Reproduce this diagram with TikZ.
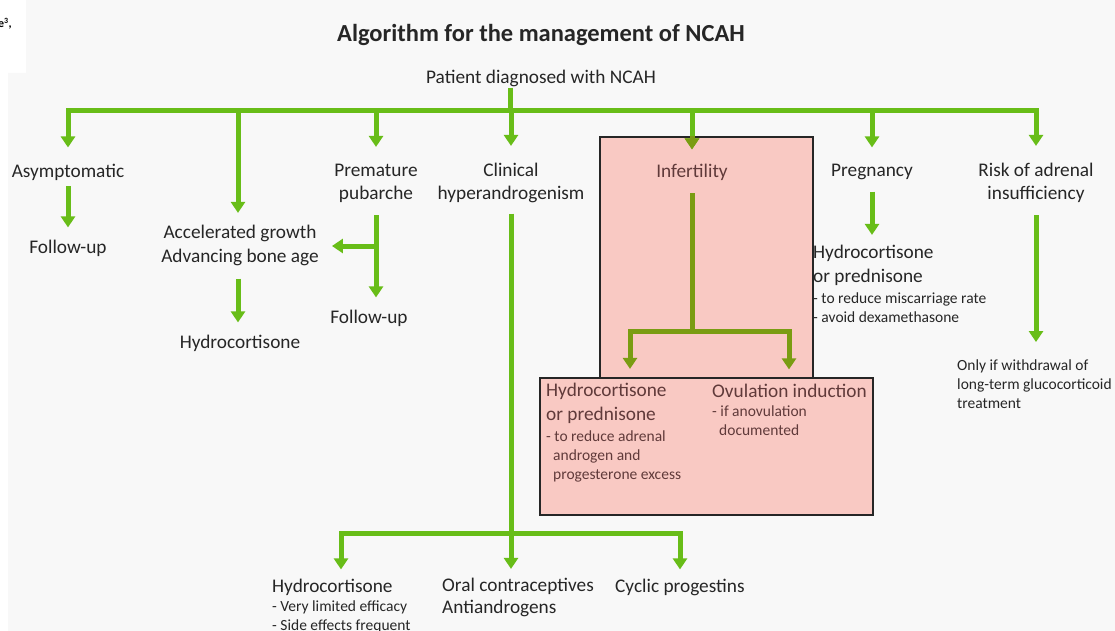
\documentclass[tikz,border=0pt]{standalone}
\usepackage{fontspec}
\setmainfont{Carlito}
\usetikzlibrary{arrows.meta}

\definecolor{panel}{RGB}{248,248,248}
\definecolor{grn}{RGB}{104,189,24}
\definecolor{olive}{RGB}{122,156,18}
\definecolor{rose}{RGB}{249,201,195}
\definecolor{ink}{RGB}{38,38,38}
\definecolor{inkbox}{RGB}{96,58,58}

% multi-line nodes are placed by the baseline of their last line
\tikzset{
  lbl/.style={font=\fontsize{19.3}{23.5}\selectfont, text=ink, inner sep=0pt, anchor=base, align=center},
  lblw/.style={lbl, anchor=base west, align=left},
  note/.style={font=\fontsize{15.5}{19}\selectfont, text=ink, inner sep=0pt, anchor=base west, align=left},
  flow/.style={draw=grn, line width=5pt},
  bar/.style={flow, line cap=rect},
  arr/.style={flow, -{Triangle[width=14pt,length=11pt]}},
  panelbox/.style={fill=rose, draw=black!85, line width=1.3pt},
}

\begin{document}
\begin{tikzpicture}[x=1pt,y=-1pt]
\useasboundingbox (0,0) rectangle (1115,631);
% page background and grey panel
\fill[white] (0,0) rectangle (1115,631);
\fill[panel] (26,0) -- (1115,0) -- (1115,631) -- (8,631) -- (8,73) -- (26,73) -- cycle;
\node[font=\bfseries\fontsize{12}{14}\selectfont, inner sep=0pt, anchor=base east] (frag) at (12,28) {e\textsuperscript{3},};

% shaded panels for the infertility branch
\draw[panelbox] (600,137) rectangle (813,378);
\draw[panelbox] (540,378) rectangle (873,515);

% titles
\node[lbl, font=\bfseries\fontsize{24.5}{28}\selectfont] (title) at (541,42) {Algorithm for the management of NCAH};
\node[lbl] (pat) at (541,84) {Patient diagnosed with NCAH};

% first level
\node[lbl] (asym) at (68,178) {Asymptomatic};
\node[lbl] (fu1) at (68,253) {Follow-up};
\node[lbl] (accel) at (240,262) {Accelerated growth\\Advancing bone age};
\node[lbl] (hc1) at (240,348) {Hydrocortisone};
\node[lbl] (prem) at (376,200) {Premature\\pubarche};
\node[lbl] (fu2) at (369,323) {Follow-up};
\node[lbl] (clin) at (511,200) {Clinical\\hyperandrogenism};
\node[lbl, text=inkbox] (infert) at (692,178) {Infertility};
\node[lbl] (preg) at (872,177) {Pregnancy};
\node[lbl] (risk) at (1036,200) {Risk of adrenal\\insufficiency};

% pregnancy branch
\node[lblw] (hcp) at (813,282) {Hydrocortisone\\or prednisone};
\node[note] (hcpn) at (813,322) {- to reduce miscarriage rate\\- avoid dexamethasone};

% adrenal insufficiency branch
\node[note] (only) at (957,408) {Only if withdrawal of\\long-term glucocorticoid\\treatment};

% infertility branch
\node[lblw, text=inkbox] (hci) at (546,420) {Hydrocortisone\\or prednisone};
\node[note, text=inkbox] (hcin) at (546,479) {- to reduce adrenal\\\hspace*{7pt}androgen and\\\hspace*{7pt}progesterone excess};
\node[lblw, text=inkbox] (ovu) at (712,397) {Ovulation induction};
\node[note, text=inkbox] (ovun) at (712,435) {- if anovulation\\\hspace*{7pt}documented};

% hyperandrogenism branch
\node[lblw] (hcb) at (272,592) {Hydrocortisone};
\node[note] (hcbn) at (272,630) {- Very limited efficacy\\- Side effects frequent};
\node[lblw, font=\fontsize{19.3}{21.5}\selectfont] (ocp) at (442,613) {Oral contraceptives\\Antiandrogens};
\node[lblw] (cyc) at (615,592) {Cyclic progestins};

% junctions
\coordinate (top) at (510,111);
\coordinate (c1) at (68,111);
\coordinate (c2) at (238,111);
\coordinate (c3) at (376,111);
\coordinate (c4) at (511,111);
\coordinate (c5) at (692,111);
\coordinate (c6) at (872,111);
\coordinate (c7) at (1036,111);
\coordinate (pb) at (376,246);
\coordinate (bj) at (511,533);
\coordinate (bl) at (341,533);
\coordinate (br) at (680,533);
\coordinate (ij) at (692,331);
\coordinate (il) at (630,331);
\coordinate (ir) at (789,331);

% main distribution bar
\draw[flow] (pat.south -| top) -- (top);
\draw[bar] (c1) -- (c7);
\draw[arr, shorten >=17pt] (c1) -- (c1 |- asym.north);
\draw[arr, shorten >=12pt] (c2) -- (c2 |- accel.north);
\draw[arr, shorten >=17pt] (c3) -- (c3 |- prem.north);
\draw[arr, shorten >=17pt] (c4) -- (c4 |- clin.north);
\draw[arr, shorten >=15pt] (c5) -- (c5 |- infert.north);
\draw[arr, shorten >=17pt] (c6) -- (c6 |- preg.north);
\draw[arr, shorten >=17pt] (c7) -- (c7 |- risk.north);

% second level
\draw[arr, shorten <=5pt, shorten >=12pt] (c1 |- asym.south) -- (c1 |- fu1.north);
\draw[arr, shorten <=13pt, shorten >=12pt] (c2 |- accel.south) -- (c2 |- hc1.north);
\draw[arr, shorten <=12pt, shorten >=12pt] (c3 |- prem.south) -- (c3 |- fu2.north);
\draw[arr, shorten >=13pt] (pb) -- (accel.east |- pb);
\draw[arr, shorten <=11pt, shorten >=10pt] (c6 |- preg.south) -- (c6 |- hcp.north);
\draw[arr, shorten <=12pt, shorten >=17pt] (c7 |- risk.south) -- (c7 |- only.north);

% hyperandrogenism treatments
\draw[flow, shorten <=10pt] (c4 |- clin.south) -- (bj);
\draw[bar] (bl) -- (br);
\draw[arr, shorten >=9pt] (bl) -- (bl |- hcb.north);
\draw[arr, shorten >=9pt] (bj) -- (bj |- ocp.north);
\draw[arr, shorten >=9pt] (br) -- (br |- cyc.north);

% infertility treatments, seen through the shaded panel
\begin{scope}
  \clip (600,137) rectangle (813,378);
  \draw[arr, draw=olive, shorten >=15pt] (c5) -- (c5 |- infert.north);
\end{scope}
\draw[flow, draw=olive, shorten <=12pt] (c5 |- infert.south) -- (ij);
\draw[bar, draw=olive] (il) -- (ir);
\draw[arr, draw=olive, shorten >=14pt] (il) -- (il |- hci.north);
\draw[arr, draw=olive, shorten >=14pt] (ir) -- (ir |- ovu.north);
\end{tikzpicture}
\end{document}
